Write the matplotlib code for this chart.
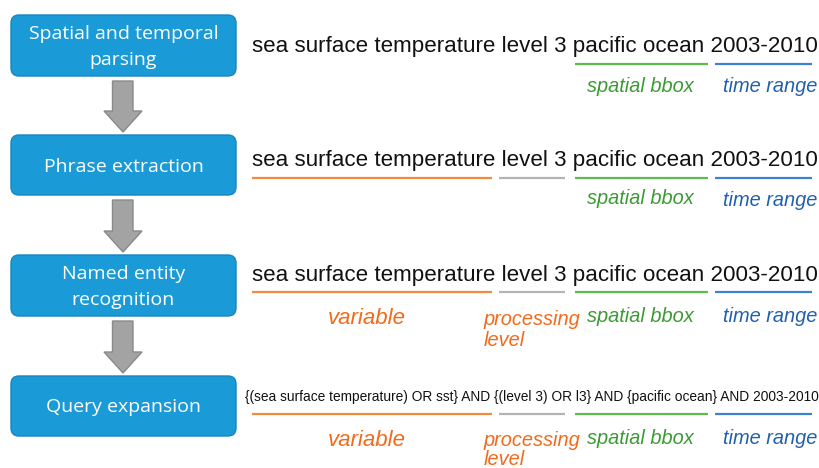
import matplotlib
matplotlib.use("Agg")
import matplotlib.pyplot as plt
from matplotlib.patches import FancyBboxPatch, Polygon

# ---- content ----
steps = ["Spatial and temporal\nparsing", "Phrase extraction",
         "Named entity\nrecognition", "Query expansion"]
query = "sea surface temperature level 3 pacific ocean 2003-2010"
expanded = "{(sea surface temperature) OR sst} AND {(level 3) OR l3} AND {pacific ocean} AND 2003-2010"
labels = ["variable", "processing\nlevel", "spatial bbox", "time range"]

# ---- layout (pixel coordinates) ----
W, H = 820, 468
fig = plt.figure(figsize=(8.2, 4.68), dpi=100)
ax = fig.add_axes([0, 0, 1, 1])
ax.set_xlim(0, W)
ax.set_ylim(H, 0)
ax.axis("off")

box_color = "#1A9BD7"
box_edge = "#1786BC"
box_y = [(15, 76), (135, 195), (255, 316), (376, 436)]
for (y0, y1), s in zip(box_y, steps):
    p = FancyBboxPatch((11, y0), 225, y1 - y0,
                       boxstyle="round,pad=0,rounding_size=8",
                       fc=box_color, ec=box_edge, lw=1.0)
    ax.add_patch(p)
    ax.text(123.5, (y0 + y1) / 2 + 1.5, s, ha="center", va="center",
            color="white", fontsize=14, family="Open Sans",
            linespacing=1.6)

# arrows between boxes
arrow_fc = "#A3A3A3"
arrow_ec = "#8A8A8A"
for i in range(3):
    top = box_y[i][1] + 5
    bot = box_y[i + 1][0] - 3
    hs = bot - 21
    pts = [(112.5, top), (133, top), (133, hs), (142, hs), (123, bot),
           (104, hs), (112.5, hs)]
    ax.add_patch(Polygon(pts, closed=True, fc=arrow_fc, ec=arrow_ec, lw=1))

# colors
c_orange_line = "#F58A3F"
c_gray_line = "#B4B4B4"
c_green_line = "#5DBA4C"
c_blue_line = "#3E80D2"
c_orange_txt = "#F26A1B"
c_green_txt = "#3C9A34"
c_blue_txt = "#2160B0"

seg_x = [(252, 492), (499, 565), (575, 708), (715, 812)]
seg_col = [c_orange_line, c_gray_line, c_green_line, c_blue_line]

text_y = [46.5, 160.5, 275.5]
line_y = [64, 178, 292]
for ty in text_y:
    ax.text(252.5, ty, query, ha="left", va="center", fontsize=16.1,
            family="Liberation Sans", color="#111111")

ax.text(245, 397, expanded, ha="left", va="center", fontsize=9.87,
        family="Liberation Sans", color="#111111")

def draw_lines(y, which):
    for k in which:
        x0, x1 = seg_x[k]
        ax.plot([x0, x1], [y, y], color=seg_col[k], lw=1.6,
                solid_capstyle="butt")

draw_lines(line_y[0], [2, 3])
draw_lines(line_y[1], [0, 1, 2, 3])
draw_lines(line_y[2], [0, 1, 2, 3])
draw_lines(414, [0, 1, 2, 3])

lab_kw = dict(fontsize=14.4, family="Liberation Sans", style="italic")

def draw_labels(y, which, y_shift=(0, 0, 0, 0), ls=1.12):
    if 0 in which:
        ax.text(366.5, y + 3, labels[0], ha="center", va="center",
                color=c_orange_txt, fontsize=16, family="Liberation Sans",
                style="italic")
    if 1 in which:
        ax.text(484, y - 6, labels[1], ha="left", va="top",
                color=c_orange_txt, linespacing=ls, **lab_kw)
    if 2 in which:
        ax.text(640.5, y + 1 + y_shift[2], labels[2], ha="center", va="center",
                color=c_green_txt, **lab_kw)
    if 3 in which:
        ax.text(770, y + 1 + y_shift[3], labels[3], ha="center", va="center",
                color=c_blue_txt, **lab_kw)

draw_labels(85, [2, 3], (0, 0, 0, 1))
draw_labels(198, [2, 3], (0, 0, 0, 2))
draw_labels(316, [0, 1, 2, 3])
draw_labels(437, [0, 1, 2, 3], ls=1.02)

fig.savefig("out.png", dpi=100, facecolor="white")
